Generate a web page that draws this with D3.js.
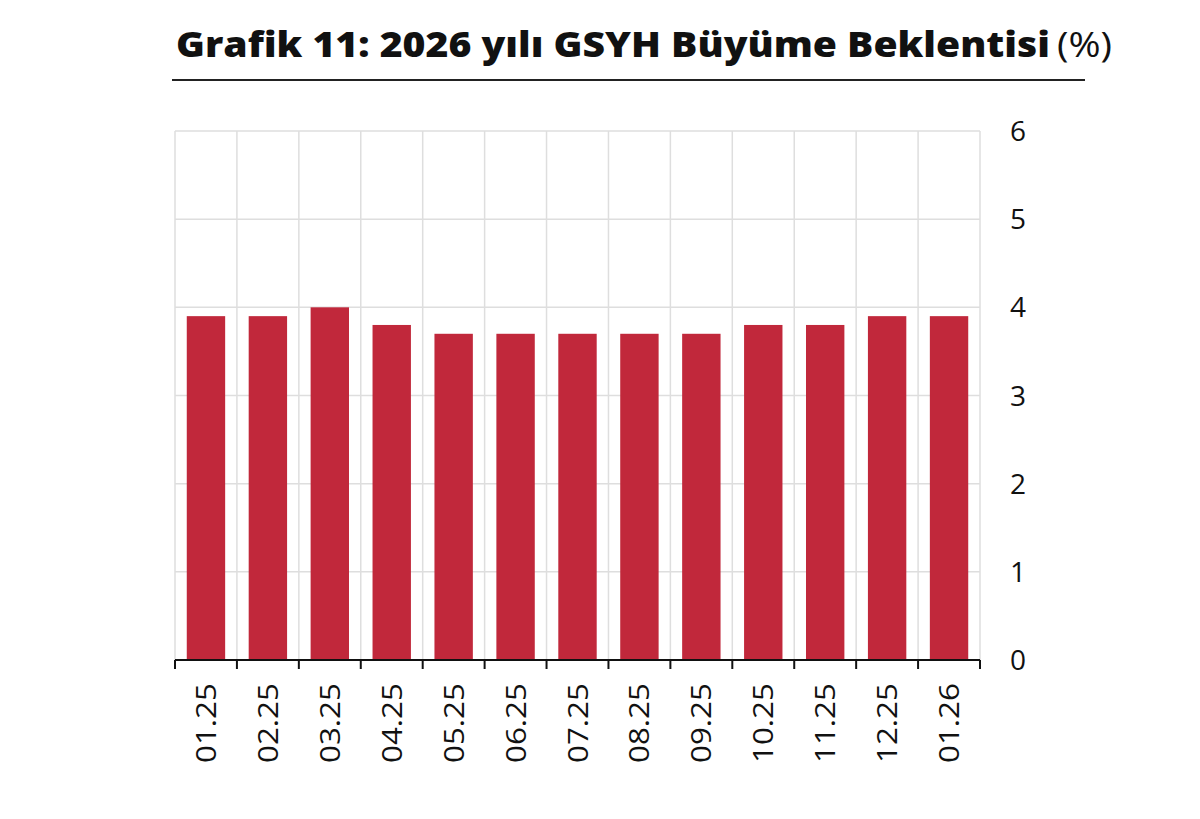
<!DOCTYPE html>
<html><head><meta charset="utf-8">
<script src="https://cdn.jsdelivr.net/npm/d3@7"></script>
<style>
html,body{margin:0;padding:0;background:#fff;}
svg{display:block;font-family:"Open Sans",sans-serif;}
</style></head>
<body>
<svg id="c" width="1200" height="819"></svg>
<script>
const categories = ["01.25","02.25","03.25","04.25","05.25","06.25","07.25","08.25","09.25","10.25","11.25","12.25","01.26"];
const values = [3.9,3.9,4.0,3.8,3.7,3.7,3.7,3.7,3.7,3.8,3.8,3.9,3.9];
const yTicks = [0,1,2,3,4,5,6];
const titleMain = "Grafik 11: 2026 yılı GSYH Büyüme Beklentisi";
const titleUnit = "(%)";

const svg = d3.select("#c");
const L = 175, R = 980, T = 131, B = 660;

const x = d3.scaleBand().domain(categories).range([L, R]).paddingInner(0.38).paddingOuter(0.19);
const y = d3.scaleLinear().domain([0, 6]).range([B, T]);
const step = x.step();

// horizontal gridlines
svg.append("g").selectAll("line").data(yTicks.filter(d => d > 0)).join("line")
  .attr("x1", L).attr("x2", R).attr("y1", d => y(d)).attr("y2", d => y(d))
  .attr("stroke", "#dedede").attr("stroke-width", 1.5);

// vertical gridlines at category boundaries
const bounds = categories.map(c => x(c) - step * x.paddingInner() / 2).concat([R]);
svg.append("g").selectAll("line").data(bounds).join("line")
  .attr("x1", d => d).attr("x2", d => d).attr("y1", T).attr("y2", B)
  .attr("stroke", "#dedede").attr("stroke-width", 1.5);

// bars
svg.append("g").selectAll("rect").data(values).join("rect")
  .attr("x", (d, i) => x(categories[i]))
  .attr("width", x.bandwidth())
  .attr("y", d => y(d))
  .attr("height", d => B - y(d))
  .attr("fill", "#c1283b");

// bottom axis
svg.append("line").attr("x1", L).attr("x2", R).attr("y1", B).attr("y2", B)
  .attr("stroke", "#111").attr("stroke-width", 2);
svg.append("g").selectAll("line").data(bounds).join("line")
  .attr("x1", d => d).attr("x2", d => d).attr("y1", B).attr("y2", B + 9)
  .attr("stroke", "#111").attr("stroke-width", 2);

// x labels rotated
svg.append("g").selectAll("text").data(categories).join("text")
  .attr("transform", d => `translate(${x(d) + x.bandwidth() / 2 + 10},683) rotate(-90)`)
  .attr("text-anchor", "end")
  .attr("font-size", 28).attr("fill", "#111")
  .attr("textLength", 80).attr("lengthAdjust", "spacingAndGlyphs")
  .text(d => d);

// right y labels
svg.append("g").selectAll("text").data(yTicks).join("text")
  .attr("x", 1010).attr("y", d => y(d)).attr("dy", "0.36em")
  .attr("font-size", 28).attr("fill", "#111")
  .text(d => d);

// title
const tg = svg.append("text").attr("x", 176).attr("y", 57).attr("fill", "#111");
const t1 = tg.append("tspan").attr("font-weight", 800).attr("font-size", 35).text(titleMain);
t1.attr("textLength", 874).attr("lengthAdjust", "spacingAndGlyphs");
const t2 = tg.append("tspan").attr("font-size", 34).attr("dx", 7).text(titleUnit);
t2.attr("textLength", 55).attr("lengthAdjust", "spacingAndGlyphs");

svg.append("line").attr("x1", 172).attr("x2", 1085).attr("y1", 80).attr("y2", 80)
  .attr("stroke", "#222").attr("stroke-width", 2);
</script>
</body></html>
